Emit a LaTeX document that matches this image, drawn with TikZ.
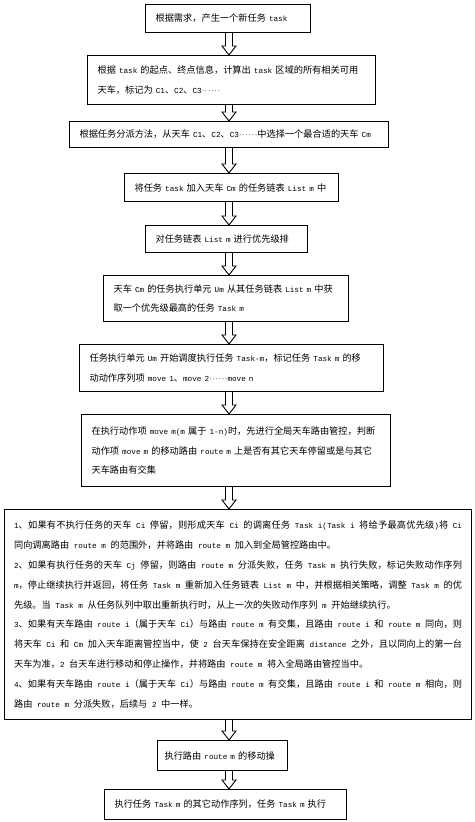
\documentclass[tikz,border=0pt]{standalone}
\usepackage{fontspec}
\setmainfont{Noto Sans CJK SC}
\newfontfamily\latinfont[Scale=0.833]{Liberation Mono}
\newcommand\lat[1]{\mbox{\latinfont #1}}
\newcommand\ellip{\makebox[2em][s]{$\cdot$\hfil$\cdot$\hfil$\cdot$\hfil$\cdot$\hfil$\cdot$\hfil$\cdot$}}
\newcommand\boxfont{\fontsize{9.2pt}{19.6pt}\selectfont\XeTeXlinebreaklocale ""\relax}
\newcommand\jboxfont{\fontsize{9.2pt}{19.8pt}\selectfont\XeTeXlinebreaklocale "zh"\XeTeXlinebreakskip=0pt plus 1.5pt\relax\tolerance=9999\relax}
\setlength\parindent{0pt}
\setlength\parskip{0pt}
\usetikzlibrary{calc}
\tikzset{
  box/.style={draw, line width=1.1pt, anchor=north west, inner xsep=10pt, inner ysep=0pt,
    align=left, font=\boxfont},
  jbox/.style={box, align=justify, font=\jboxfont},
  flow/.style={draw, line width=0.9pt, fill=white, line join=miter},
}
\newcommand\flowarrow[2]{%
  \draw[flow] ($(#1.south -| ax)+(-3.5,0)$) -- ($(#2.north -| ax)+(-3.5,-9)$)
    -- ($(#2.north -| ax)+(-7,-9)$) -- (#2.north -| ax) -- ($(#2.north -| ax)+(7,-9)$)
    -- ($(#2.north -| ax)+(3.5,-9)$) -- ($(#1.south -| ax)+(3.5,0)$);}
\begin{document}
\begin{tikzpicture}[x=1pt,y=-1pt]
\useasboundingbox (0,0) rectangle (474,822);
\coordinate (ax) at (229,0);
\node[box, text width=145pt, minimum height=28pt] (b1) at (145,4) {根据需求，产生一个新任务\lat{ task}};
\node[box, text width=268pt, minimum height=49pt] (b2) at (87,55) {根据\lat{ task }的起点、终点信息，计算出\lat{ task }区域的所有相关可用\\天车，标记为\lat{ C1}、\lat{C2}、\lat{C3}\ellip};
\node[box, text width=299pt, minimum height=26pt] (b3) at (69,121) {根据任务分派方法，从天车\lat{ C1}、\lat{C2}、\lat{C3}\ellip 中选择一个最合适的天车\lat{ Cm}};
\node[box, text width=194pt, minimum height=28pt] (b4) at (124,173) {将任务\lat{ task }加入天车\lat{ Cm }的任务链表\lat{ List m }中};
\node[box, text width=142pt, minimum height=27pt] (b5) at (145,225) {对任务链表\lat{ List m }进行优先级排};
\node[box, text width=225pt, minimum height=46pt] (b6) at (103,275) {天车\lat{ Cm }的任务执行单元\lat{ Um }从其任务链表\lat{ List m }中获\\取一个优先级最高的任务\lat{ Task m}};
\node[box, text width=284pt, minimum height=47pt] (b7) at (79,344) {任务执行单元\lat{ Um }开始调度执行任务\lat{ Task-m}，标记任务\lat{ Task m }的移\\动动作序列项\lat{ move 1}、\lat{move 2}\ellip\lat{move n}};
\node[box, text width=289pt, minimum height=72pt] (b8) at (81,414) {在执行动作项\lat{ move m(m }属于\lat{ 1-n)}时，先进行全局天车路由管控，判断\\动作项\lat{ move m }的移动路由\lat{ route m }上是否有其它天车停留或是与其它\\天车路由有交集};
\node[jbox, inner xsep=9.5pt, text width=448pt, minimum height=210pt] (b9) at (4,509) {%
\lat{1}、如果有不执行任务的天车\lat{ Ci }停留，则形成天车\lat{ Ci }的调离任务\lat{ Task i(Task i }将给予最高优先级\lat{)}将\lat{ Ci}\linebreak 同向调离路由\lat{ route m }的范围外，并将路由\lat{ route m }加入到全局管控路由中。\par
\lat{2}、如果有执行任务的天车\lat{ Cj }停留，则路由\lat{ route m }分派失败，任务\lat{ Task m }执行失败，标记失败动作序列\linebreak \lat{m}，停止继续执行并返回，将任务\lat{ Task m }重新加入任务链表\lat{ List m }中，并根据相关策略，调整\lat{ Task m }的优\linebreak 先级。当\lat{ Task m }从任务队列中取出重新执行时，从上一次的失败动作序列\lat{ m }开始继续执行。\par
\lat{3}、如果有天车路由\lat{ route i}（属于天车\lat{ Ci}）与路由\lat{ route m }有交集，且路由\lat{ route i }和\lat{ route m }同向，则\linebreak 将天车\lat{ Ci }和\lat{ Cm }加入天车距离管控当中，使\lat{ 2 }台天车保持在安全距离\lat{ distance }之外，且以同向上的第一台\linebreak 天车为准，\lat{2 }台天车进行移动和停止操作，并将路由\lat{ route m }将入全局路由管控当中。\par
\lat{4}、如果有天车路由\lat{ route i}（属于天车\lat{ Ci}）与路由\lat{ route m }有交集，且路由\lat{ route i }和\lat{ route m }相向，则\linebreak 路由\lat{ route m }分派失败，后续与\lat{ 2 }中一样。};
\node[box, inner xsep=7pt, text width=116pt, minimum height=30pt] (b10) at (157,740) {执行路由\lat{ route m }的移动操};
\node[box, text width=222pt, minimum height=30pt] (b11) at (104,789) {执行任务\lat{ Task m }的其它动作序列，任务\lat{ Task m }执行};
\flowarrow{b1}{b2}
\flowarrow{b2}{b3}
\flowarrow{b3}{b4}
\flowarrow{b4}{b5}
\flowarrow{b5}{b6}
\flowarrow{b6}{b7}
\flowarrow{b7}{b8}
\flowarrow{b8}{b9}
\flowarrow{b9}{b10}
\flowarrow{b10}{b11}
\end{tikzpicture}
\end{document}
